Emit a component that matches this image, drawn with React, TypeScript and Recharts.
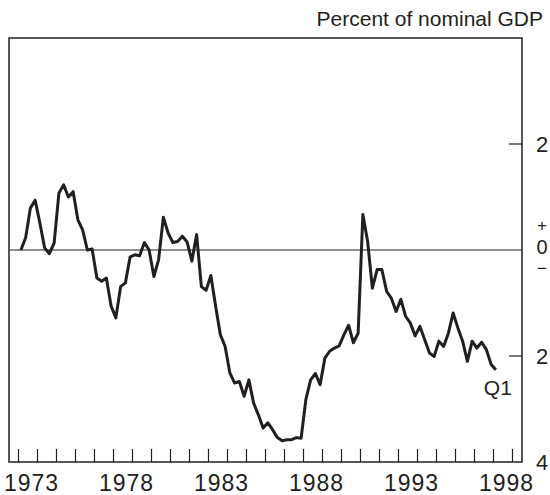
import React from 'react';
import {
    LineChart,
    Line,
    XAxis,
    YAxis,
    ReferenceLine,
    ReferenceArea,
} from 'recharts';

// Quarterly series, 1972:Q1 through 1997:Q1 (percent of nominal GDP)
const startYear = 1972;
const gapValues = [
    0.0, 0.23, 0.79, 0.94, 0.51, 0.04, -0.07, 0.13, 1.07, 1.23,
    1.0, 1.1, 0.57, 0.38, 0.0, 0.02, -0.53, -0.59, -0.53, -1.06,
    -1.28, -0.69, -0.62, -0.13, -0.09, -0.11, 0.14, 0.0, -0.5, -0.18,
    0.62, 0.32, 0.14, 0.16, 0.26, 0.15,
    -0.21, 0.29, -0.69, -0.76, -0.48, -1.06, -1.6, -1.82, -2.32, -2.51,
    -2.48, -2.76, -2.45, -2.89, -3.11, -3.36, -3.26, -3.39, -3.54, -3.6,
    -3.58, -3.58, -3.54, -3.55, -2.82, -2.45, -2.33, -2.54, -2.04, -1.91,
    -1.85, -1.81, -1.6, -1.42, -1.75, -1.57,
    0.67, 0.16, -0.72, -0.37, -0.37, -0.78, -0.91, -1.16, -0.93, -1.25,
    -1.38, -1.62, -1.44, -1.69, -1.94, -2.01, -1.72, -1.82, -1.57, -1.19,
    -1.47, -1.72, -2.1, -1.72, -1.85, -1.74, -1.88, -2.16, -2.26,
];
const yearTicks = Array.from({ length: 27 }, (_, i) => 1972 + i);
const yearLabels = [1973, 1978, 1983, 1988, 1993, 1998];
const valueTicks = [-4, -2, 0, 2];
const lastLabel = 'Q1';

// quarter midpoints on a continuous year axis
const data = gapValues.map((v, i) => ({ t: startYear + i / 4 + 0.125, value: v }));

const FONT = '"Liberation Sans", Arial, Helvetica, sans-serif';
const INK = '#231f20';

const YearTick = (props: any) => {
    const { x, y, payload } = props;
    return (
        <g>
            <line x1={x} x2={x} y1={y} y2={y - 13} stroke={INK} strokeWidth={1.2} />
            {yearLabels.includes(payload.value) && (
                <text
                    x={x - 6}
                    y={y + 29}
                    textAnchor="middle"
                    fontSize={23}
                    letterSpacing={1}
                    fill={INK}
                    fontFamily={FONT}
                >
                    {payload.value}
                </text>
            )}
        </g>
    );
};

const ValueTick = (props: any) => {
    const { x, y, payload } = props;
    const v = payload.value;
    const tx = x + 20;
    if (v === 0) {
        // stacked "+ 0 −" sign marker
        return (
            <g fontFamily={FONT} fill={INK} textAnchor="middle">
                <text x={tx} y={y - 18.6} fontSize={17}>+</text>
                <text x={tx} y={y + 3.6} fontSize={20}>0</text>
                <text x={tx} y={y + 23.8} fontSize={17}>{'\u2212'}</text>
            </g>
        );
    }
    return (
        <g>
            {v !== -4 && <line x1={x - 13} x2={x} y1={y} y2={y} stroke={INK} strokeWidth={1.2} />}
            <text x={tx} y={y} dominantBaseline="central" textAnchor="middle" fontSize={22} fill={INK} fontFamily={FONT}>
                {Math.abs(v)}
            </text>
        </g>
    );
};

const renderLastLabel = (props: any) => {
    const { x, y, index } = props;
    if (index !== data.length - 1) return null;
    return (
        <text x={x + 2} y={y + 25} textAnchor="middle" fontSize={21} fill={INK} fontFamily={FONT}>
            {lastLabel}
        </text>
    );
};

export default function App() {
    return (
        <div style={{ position: 'absolute', left: 0, top: 0, width: 550, height: 495, background: '#fff' }}>
            <div
                style={{
                    position: 'absolute',
                    top: 8,
                    right: 7,
                    fontFamily: FONT,
                    fontSize: 21,
                    lineHeight: '21px',
                    color: INK,
                    whiteSpace: 'nowrap',
                }}
            >
                Percent of nominal GDP
            </div>
            <LineChart width={550} height={495} data={data} margin={{ top: 38, right: 0, left: 9, bottom: 3 }}>
                <XAxis
                    dataKey="t"
                    type="number"
                    domain={[1971.5, 1998.5]}
                    ticks={yearTicks}
                    interval={0}
                    height={30}
                    tickSize={0}
                    tickMargin={0}
                    tickLine={false}
                    axisLine={false}
                    tick={<YearTick />}
                />
                <YAxis
                    orientation="right"
                    type="number"
                    domain={[-4, 4]}
                    ticks={valueTicks}
                    interval={0}
                    width={28}
                    tickSize={0}
                    tickMargin={0}
                    tickLine={false}
                    axisLine={false}
                    tick={<ValueTick />}
                />
                <ReferenceArea x1={1971.5} x2={1998.5} y1={-4} y2={4} fill="none" stroke={INK} strokeWidth={1.5} />
                <ReferenceLine y={0} stroke={INK} strokeWidth={1.2} />
                <Line
                    type="linear"
                    dataKey="value"
                    stroke={INK}
                    strokeWidth={3}
                    strokeLinejoin="round"
                    dot={false}
                    label={renderLastLabel}
                    isAnimationActive={false}
                />
            </LineChart>
        </div>
    );
}
